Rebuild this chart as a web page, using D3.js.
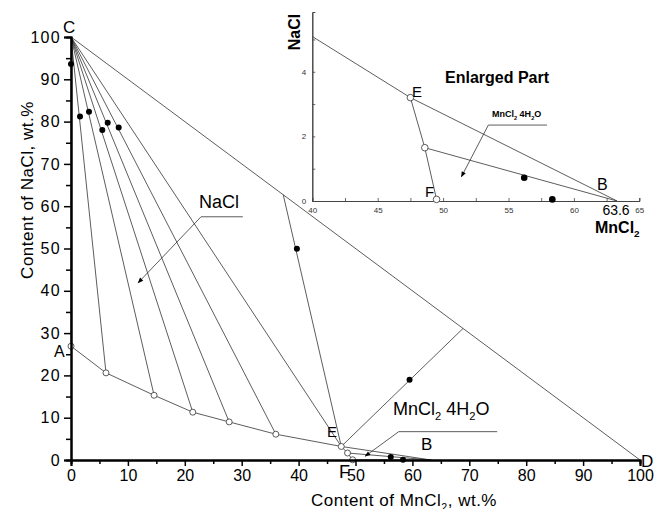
<!DOCTYPE html>
<meta charset="utf-8" />
<title>NaCl - MnCl2 - H2O phase diagram</title>
<style>
  body { margin: 0; background: #fff; }
  svg { font-family: "Liberation Sans", Arial, sans-serif; }
  .thin { fill: none; stroke: #333; stroke-width: 0.8px; }
  .open { fill: #fff; stroke: #333; stroke-width: 0.8px; }
  .dot { fill: #000; }
</style>
<body>
<svg width="654" height="509"></svg>
<script src="https://d3js.org/d3.v7.min.js"></script>
<script>
// solubility curve A -> E (open circles), wt.% MnCl2 / wt.% NaCl
const curveAE = [[0, 26.9], [6.15, 20.6], [14.6, 15.3], [21.4, 11.3], [27.8, 9.0], [36.0, 6.1], [47.5, 3.2]];
// curve E -> F
const curveEF = [[47.5, 3.2], [48.6, 1.65], [49.5, 0.05]];
const pointB = [63.3, 0];
const pointC = [0, 100];
const pointD = [100, 0];
// wet residues (filled points)
const residues = [[0, 93.6], [1.58, 81.2], [3.16, 82.3], [5.5, 78.0], [6.45, 79.7], [8.38, 78.6],
                  [39.7, 49.95], [59.5, 19.0], [56.2, 0.72], [58.35, 0.05]];
// tie lines drawn through E from the C-D line
const tieFromCD = [[[37.3, 62.7], [47.5, 3.2]], [[68.9, 31.1], [47.5, 3.2]]];
const xTicks = [0, 10, 20, 30, 40, 50, 60, 70, 80, 90, 100];
const yTicks = [0, 10, 20, 30, 40, 50, 60, 70, 80, 90, 100];
const insetXTicks = [40, 45, 50, 55, 60, 65];
const insetYTicks = [0, 2, 4];

const svg = d3.select("svg");
const x = d3.scaleLinear().domain([0, 100]).range([71, 640]);
const y = d3.scaleLinear().domain([0, 100]).range([460, 37]);
const line = d3.line().x(d => x(d[0])).y(d => y(d[1]));

svg.append("defs").append("marker")
  .attr("id", "arr").attr("viewBox", "0 0 10 10").attr("refX", 9).attr("refY", 5)
  .attr("markerWidth", 9).attr("markerHeight", 7).attr("orient", "auto")
  .append("path").attr("d", "M0,1 L10,5 L0,9 Z").attr("fill", "#000");

const g = svg.append("g");

// C - D
g.append("path").attr("class", "thin").attr("d", line([pointC, pointD]));
// tie lines from C
curveAE.forEach(p => g.append("path").attr("class", "thin").attr("d", line([pointC, p])));
tieFromCD.forEach(t => g.append("path").attr("class", "thin").attr("d", line(t)));
// curves
g.append("path").attr("class", "thin").attr("d", line(curveAE));
g.append("path").attr("class", "thin").attr("d", line(curveEF));
// tie lines to B
g.append("path").attr("class", "thin").attr("d", line([curveEF[0], pointB]));
g.append("path").attr("class", "thin").attr("d", line([curveEF[1], pointB]));
g.append("path").attr("class", "thin").attr("d", line([curveEF[2], pointB]));

// axes
const xAxis = svg.append("g").attr("transform", `translate(0,${y(0)})`)
  .call(d3.axisBottom(x).tickValues(xTicks).tickSize(6).tickPadding(4).tickFormat(d3.format("d")));
svg.append("g").attr("transform", `translate(0,${y(0)})`)
  .call(d3.axisBottom(x).tickValues(d3.range(5, 100, 10)).tickSize(4).tickFormat(""));
const yAxis = svg.append("g").attr("transform", `translate(${x(0)},0)`)
  .call(d3.axisLeft(y).tickValues(yTicks).tickSize(7).tickPadding(3).tickFormat(d3.format("d")));
svg.append("g").attr("transform", `translate(${x(0)},0)`)
  .call(d3.axisLeft(y).tickValues(d3.range(5, 100, 10)).tickSize(5).tickFormat(""));
svg.selectAll(".domain").attr("stroke", "#000").attr("stroke-width", 2);
svg.selectAll(".tick line").attr("stroke", "#000").attr("stroke-width", 1.5);
xAxis.selectAll("text").attr("font-size", 16).attr("font-family", "Liberation Sans, Arial").attr("fill", "#000");
yAxis.selectAll("text").attr("font-size", 16).attr("font-family", "Liberation Sans, Arial").attr("fill", "#000")
  .attr("letter-spacing", 1.3);

// points
g.selectAll(".open").data(curveAE.concat(curveEF.slice(1))).join("circle")
  .attr("class", "open").attr("r", 3).attr("cx", d => x(d[0])).attr("cy", d => y(d[1]));
g.selectAll(".dot").data(residues).join("circle")
  .attr("class", "dot").attr("r", 3).attr("cx", d => x(d[0])).attr("cy", d => y(d[1]));

// leaders
function leader(sel, sx, sy, pts) {
  sel.append("path").attr("class", "thin").attr("stroke", "#555")
    .attr("d", `M${sx(pts[0][0])},${sy(pts[0][1])}L${sx(pts[1][0])},${sy(pts[1][1])}`);
  sel.append("path").attr("class", "thin").attr("stroke", "#555").attr("marker-end", "url(#arr)")
    .attr("d", `M${sx(pts[0][0])},${sy(pts[0][1])}L${sx(pts[2][0])},${sy(pts[2][1])}`);
}
leader(g, x, y, [[22.85, 57.5], [30.2, 57.5], [11.8, 41.9]]);
leader(g, x, y, [[57.6, 6.7], [74.9, 6.7], [51.7, 0.9]]);

// text with subscripts: parts are strings or {sub: "2"}
function label(sel, px, py, parts, size, opts = {}) {
  const t = sel.append("text").attr("x", px).attr("y", py).attr("font-size", size)
    .attr("text-anchor", opts.anchor || "start").attr("font-weight", opts.bold ? "bold" : null)
    .attr("letter-spacing", opts.ls || null);
  if (opts.rotate) t.attr("transform", `rotate(-90,${px},${py})`);
  let shift = 0;
  parts.forEach(p => {
    const sub = typeof p !== "string";
    const target = sub ? size * 0.28 : 0;
    t.append("tspan").attr("dy", target - shift).attr("font-size", sub ? size * 0.62 : size)
      .text(sub ? p.sub : p);
    shift = target;
  });
  return t;
}

label(svg, 63, 33, ["C"], 17);
label(svg, 54, 357, ["A"], 16);
label(svg, 641, 467, ["D"], 17);
label(svg, 327, 437, ["E"], 15);
label(svg, 339, 478, ["F"], 18);
label(svg, 421, 450, ["B"], 17);
label(svg, 199, 208, ["NaCl"], 18);
label(svg, 393, 415, ["MnCl", { sub: "2" }, " 4H", { sub: "2" }, "O"], 18);
label(svg, 404, 506, ["Content of MnCl", { sub: "2" }, ", wt.%"], 17, { anchor: "middle", ls: 0.5 });
label(svg, 33, 190, ["Content of NaCl, wt.%"], 17, { anchor: "middle", rotate: true, ls: 0.5 });

// inset
const ix = d3.scaleLinear().domain([40, 65]).range([312.3, 639.3]);
const iy = d3.scaleLinear().domain([0, 5.85]).range([201, 12]);
const ig = svg.append("g");
svg.append("clipPath").attr("id", "ic").append("rect")
  .attr("x", ix(40)).attr("y", iy(5.85)).attr("width", ix(65) - ix(40)).attr("height", iy(0) - iy(5.85));
const iline = d3.line().x(d => ix(d[0])).y(d => iy(d[1]));
const ic = ig.append("g").attr("clip-path", "url(#ic)");
ic.append("path").attr("class", "thin").attr("d", iline(curveAE.slice(-2)));
ic.append("path").attr("class", "thin").attr("d", iline(curveEF));
ic.append("path").attr("class", "thin").attr("d", iline([curveEF[0], pointB]));
ic.append("path").attr("class", "thin").attr("d", iline([curveEF[1], pointB]));

ig.append("g").attr("transform", `translate(0,${iy(0)})`)
  .call(d3.axisTop(ix).tickValues(d3.range(40, 65.1, 2.5)).tickSize(3).tickFormat(""));
ig.append("g").attr("transform", `translate(0,${iy(0)})`)
  .call(d3.axisBottom(ix).tickValues(insetXTicks).tickSize(0).tickPadding(6).tickFormat(d3.format("d")));
ig.append("g").attr("transform", `translate(${ix(40)},0)`)
  .call(d3.axisRight(iy).tickValues(d3.range(0, 5.1, 1)).tickSize(3).tickFormat(""));
ig.append("g").attr("transform", `translate(${ix(40)},0)`)
  .call(d3.axisLeft(iy).tickValues(insetYTicks).tickSize(0).tickPadding(6).tickFormat(d3.format("d")));
ig.selectAll(".domain").attr("stroke", "#444").attr("stroke-width", 1);
ig.selectAll(".tick line").attr("stroke", "#444").attr("stroke-width", 0.8);
ig.selectAll(".tick text").attr("font-size", 8).attr("fill", "#333");

ig.selectAll(".open").data(curveEF).join("circle")
  .attr("class", "open").attr("r", 3.3).attr("cx", d => ix(d[0])).attr("cy", d => iy(d[1]));
ig.selectAll(".dot").data(residues.filter(d => d[0] > 40 && d[1] < 5)).join("circle")
  .attr("class", "dot").attr("r", 3.3).attr("cx", d => ix(d[0])).attr("cy", d => iy(d[1]));
leader(ig, ix, iy, [[53.46, 2.35], [57.94, 2.35], [51.4, 0.75]]);

label(svg, 445, 83, ["Enlarged Part"], 16, { bold: true });
label(svg, 412, 97, ["E"], 15);
label(svg, 425, 197, ["F"], 15);
label(svg, 597, 190, ["B"], 16);
label(svg, 616, 215, ["63.6"], 14, { anchor: "middle" });
label(svg, 595, 233, ["MnCl", { sub: "2" }], 16, { bold: true });
label(svg, 300, 32, ["NaCl"], 16, { bold: true, anchor: "middle", rotate: true });
label(svg, 492, 117, ["MnCl", { sub: "2" }, " 4H", { sub: "2" }, "O"], 9, { bold: true });
</script>
</body>
